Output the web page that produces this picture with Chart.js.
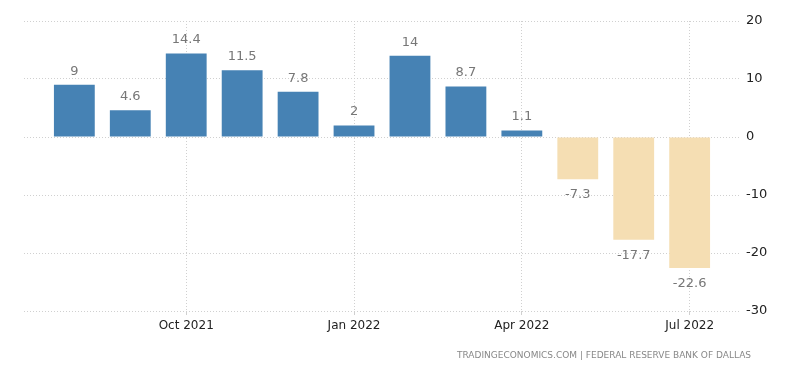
<!DOCTYPE html>
<html lang="en">
<head>
	<meta charset="utf-8">
	<title>Dallas Fed</title>
	<style>
body { margin: 0; background: #fff; }
#chartWrapper { width: 800px; height: 373px; }
	</style>
</head>
<body>
<div id="chartWrapper">
  <canvas id="myChart" width="800" height="373"></canvas>
</div>

<script src="https://cdn.jsdelivr.net/npm/chart.js"></script>
<script>
const months = ['Aug 2021', 'Sep 2021', 'Oct 2021', 'Nov 2021', 'Dec 2021', 'Jan 2022',
	'Feb 2022', 'Mar 2022', 'Apr 2022', 'May 2022', 'Jun 2022', 'Jul 2022'];
const values = [9, 4.6, 14.4, 11.5, 7.8, 2, 14, 8.7, 1.1, -7.3, -17.7, -22.6];
const tickMonths = ['Oct 2021', 'Jan 2022', 'Apr 2022', 'Jul 2022'];
const yTicks = [-30, -20, -10, 0, 10, 20];
const source = 'TRADINGECONOMICS.COM | FEDERAL RESERVE BANK OF DALLAS';

const FONT = '"DejaVu Sans", Verdana, sans-serif';

// value labels above/below bars
const valueLabels = {
	id: 'valueLabels',
	afterDatasetsDraw(chart) {
		const ctx = chart.ctx;
		const meta = chart.getDatasetMeta(0);
		ctx.save();
		ctx.font = '13px ' + FONT;
		ctx.fillStyle = '#777';
		ctx.textAlign = 'center';
		meta.data.forEach((bar, i) => {
			const v = values[i];
			if (v >= 0) {
				ctx.textBaseline = 'bottom';
				ctx.fillText(String(v), bar.x, bar.y - 7);
			} else {
				ctx.textBaseline = 'top';
				ctx.fillText(String(v), bar.x, bar.y + 9);
			}
		});
		ctx.restore();
	}
};

const footer = {
	id: 'footer',
	afterDraw(chart) {
		const ctx = chart.ctx;
		ctx.save();
		ctx.font = '9px ' + FONT;
		ctx.fillStyle = '#888';
		ctx.textAlign = 'right';
		ctx.textBaseline = 'middle';
		ctx.fillText(source, 751, 356);
		ctx.restore();
	}
};

const ctx = document.getElementById('myChart');

new Chart(ctx, {
	type: 'bar',
	data: {
		datasets: [{
			data: values.map((v, i) => ({ x: i, y: v })),
			backgroundColor: values.map(v => v >= 0 ? '#4682b4' : '#f5deb3'),
			barPercentage: 0.73,
			categoryPercentage: 1
		}]
	},
	options: {
		responsive: false,
		animation: false,
		layout: { padding: { left: 24, top: 21, right: 0, bottom: 0 } },
		plugins: {
			legend: { display: false },
			tooltip: { enabled: false }
		},
		scales: {
			x: {
				type: 'linear',
				offset: false,
				min: -0.9,
				max: 11.9,
				afterBuildTicks: s => { s.ticks = tickMonths.map(m => ({ value: months.indexOf(m) })); },
				afterFit: s => { s.height = 62; },
				ticks: {
					callback: v => months[v],
					color: '#222',
					font: { size: 12, family: FONT },
					padding: 4,
					maxRotation: 0
				},
				grid: { color: '#d0d0d0', tickLength: 4, offset: false },
				border: { display: false, dash: [1, 2] }
			},
			y: {
				position: 'right',
				min: -30,
				max: 20,
				afterBuildTicks: s => { s.ticks = yTicks.map(v => ({ value: v })); },
				afterFit: s => { s.width = 60; },
				ticks: {
					color: '#222',
					font: { size: 13, family: FONT },
					padding: 6
				},
				grid: { color: '#d0d0d0', drawTicks: false },
				border: { display: false, dash: [1, 2] }
			}
		}
	},
	plugins: [valueLabels, footer]
});
</script>
</body>
</html>
